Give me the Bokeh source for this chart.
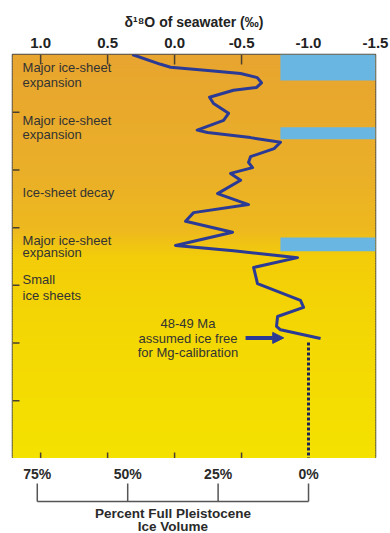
import numpy as np
from bokeh.plotting import figure
from bokeh.models import Range1d, LinearAxis, FixedTicker, Arrow, NormalHead, NumeralTickFormatter
from bokeh.layouts import column
from bokeh.embed import file_html
from bokeh.resources import INLINE
from bokeh.core.properties import value

# ---------------- data ----------------
# delta 18O of seawater curve (per mil) against age (Ma, increasing downward)
age_ma = [44.00, 44.17, 44.22, 44.28, 44.33, 44.40, 44.49, 44.57, 44.62, 44.74,
          44.85, 45.02, 45.14, 45.31, 45.35, 45.44, 45.52, 45.63, 45.77, 45.87,
          45.96, 46.06, 46.18, 46.41, 46.60, 46.74, 46.89, 47.08, 47.31, 47.40,
          47.52, 47.69, 47.97, 48.26, 48.38, 48.54, 48.71, 48.77, 48.92]
d18o = [0.316, 0.104, 0.030, -0.269, -0.493, -0.617, -0.649, -0.612, -0.440, -0.261,
        -0.291, -0.403, -0.366, -0.169, -0.246, -0.567, -0.791, -0.743, -0.567, -0.552,
        -0.582, -0.418, -0.493, -0.321, -0.552, -0.142, -0.082, -0.433, -0.007, -0.440,
        -0.918, -0.590, -0.619, -0.940, -0.963, -0.769, -0.761, -0.791, -1.090]

# ice-sheet expansion intervals (blue bars): age from / to, d18O threshold
ice_bar_top = [44.00, 45.26, 47.17]
ice_bar_bottom = [44.45, 45.47, 47.41]
ice_bar_d18o = [-0.79, -0.79, -0.79]

# phase labels on the left
phase_text = ["Major ice-sheet", " expansion", "Major ice-sheet", " expansion",
              "Ice-sheet decay", "Major ice-sheet", " expansion", "Small", "ice sheets"]
phase_age = [44.23, 44.49, 45.14, 45.39, 46.39, 47.22, 47.43, 47.90, 48.18]

# axis ticks
top_ticks = [1.0, 0.5, 0.0, -0.5, -1.0, -1.5]
marked_ticks = [1.0, 0.5, 0.0, -0.5]
age_ticks = [45, 46, 47, 48, 49, 50]

# ice-volume scale
ice_pct = [75, 50, 25, 0]
ice_pct_labels = ["75%", "50%", "25%", "0%"]
ice_free_d18o = -1.0
d18o_per_pct = 0.027

# calibration annotation
calib_lines = ["48-49 Ma", "assumed ice free", "for Mg-calibration"]
calib_age = [48.66, 48.92, 49.16]
calib_d18o = -0.10
calib_arrow = (-0.53, -0.815, 48.91)
calib_dash_top = 48.99

X0, X1 = 1.21, -1.5
Y0, Y1 = 51.0, 44.0
FW, FH = 363, 404

FONT = value("Liberation Sans")
NAVY = "#2b3a94"

p = figure(frame_width=FW, frame_height=FH, x_range=Range1d(X0, X1), y_range=Range1d(Y0, Y1),
           output_backend="svg", toolbar_location=None,
           x_axis_location=None, y_axis_location=None,
           min_border_left=12, min_border_right=15, min_border_top=54, min_border_bottom=0)
p.xgrid.visible = False
p.ygrid.visible = False
p.outline_line_color = "#4a4a4a"
p.outline_line_width = 1.5
p.background_fill_color = "#f0c020"

# gradient background
N = 160
edges = np.linspace(Y1, Y0, N + 1)
t = np.linspace(0, 1, N)
stops = np.array([[232, 165, 48], [235, 176, 40], [238, 186, 30], [243, 205, 10], [244, 216, 4], [244, 226, 0]])
pos = np.array([0.0, 0.30, 0.44, 0.50, 0.70, 1.0])
cols = []
for tt in t:
    r = np.interp(tt, pos, stops[:, 0]); g = np.interp(tt, pos, stops[:, 1]); b = np.interp(tt, pos, stops[:, 2])
    cols.append("#%02x%02x%02x" % (int(r), int(g), int(b)))
step = edges[1] - edges[0]
p.quad(left=X0, right=X1, top=edges[:-1], bottom=edges[1:] + step * 0.6,
       fill_color=cols, line_color=None)

# blue ice-sheet bars
p.quad(left=ice_bar_d18o, right=X1, top=ice_bar_top, bottom=ice_bar_bottom,
       fill_color="#6ab6e2", line_color=None)

# curve
p.line(d18o, age_ma, line_width=3, line_color=NAVY, line_join="round")

# dashed ice-free line
p.segment(x0=[ice_free_d18o], y0=[calib_dash_top], x1=[ice_free_d18o], y1=[Y0],
          line_width=3, line_color="#1e2658", line_dash="3 2")

# arrow
p.add_layout(Arrow(x_start=calib_arrow[0], y_start=calib_arrow[2], x_end=calib_arrow[1], y_end=calib_arrow[2],
                   line_width=4, line_color=NAVY,
                   end=NormalHead(size=11, fill_color=NAVY, line_color=NAVY, line_width=1)))

# texts
p.text(x=[1.135] * len(phase_text), y=phase_age, text=phase_text, text_font=FONT,
       text_font_size="13px", text_color="#333333", text_baseline="middle", text_align="left")
p.text(x=[calib_d18o] * 3, y=calib_age, text=calib_lines, text_font=FONT,
       text_font_size="13px", text_color="#333333", text_baseline="middle", text_align="center")

# tick marks (inward)
ux = (X0 - X1) / FW
uy = (Y0 - Y1) / FH
p.segment(x0=marked_ticks, y0=[Y1] * 4, x1=marked_ticks, y1=[Y1 + 10 * uy] * 4, line_color="#4a4030", line_width=1.5)
p.segment(x0=marked_ticks, y0=[Y0] * 4, x1=marked_ticks, y1=[Y0 - 6 * uy] * 4, line_color="#4a4030", line_width=1.5)
p.segment(x0=[X0] * len(age_ticks), y0=age_ticks, x1=[X0 - 7 * ux] * len(age_ticks), y1=age_ticks,
          line_color="#4a4030", line_width=1.5)

# top axis (labels only)
ax = LinearAxis(ticker=FixedTicker(ticks=top_ticks), formatter=NumeralTickFormatter(format="0.0"),
                axis_label="δ¹⁸O of seawater (‰)")
ax.major_tick_in = 0
ax.major_tick_out = 0
ax.minor_tick_in = 0
ax.minor_tick_out = 0
ax.axis_line_color = None
ax.major_label_text_font = "Liberation Sans"
ax.major_label_text_font_size = "15px"
ax.major_label_text_font_style = "bold"
ax.major_label_text_color = "#222222"
ax.major_label_standoff = 7
ax.axis_label_text_font = "Liberation Sans"
ax.axis_label_text_font_size = "14px"
ax.axis_label_text_font_style = "bold"
ax.axis_label_text_color = "#222222"
ax.axis_label_standoff = 5
p.add_layout(ax, "above")

# ---------------- bottom ice volume scale ----------------
BH = 75
q = figure(frame_width=FW, frame_height=BH, x_range=p.x_range, y_range=Range1d(BH, 0),
           output_backend="svg", toolbar_location=None,
           x_axis_location=None, y_axis_location=None,
           min_border_left=12, min_border_right=15, min_border_top=0, min_border_bottom=0)
q.xgrid.visible = False
q.ygrid.visible = False
q.outline_line_color = None

pct_x = [ice_free_d18o + v * d18o_per_pct for v in ice_pct]
q.text(x=pct_x, y=[15] * 4, text=ice_pct_labels, text_font=FONT, text_font_size="14px",
       text_font_style="bold", text_color="#2a2a2a", text_align="center", text_baseline="middle")
q.segment(x0=pct_x, y0=[25] * 4, x1=pct_x, y1=[43] * 4, line_color="#555555", line_width=1.5)
q.segment(x0=[min(pct_x)], y0=[43], x1=[max(pct_x)], y1=[43], line_color="#555555", line_width=1.5)
mid = (min(pct_x) + max(pct_x)) / 2
q.text(x=[mid, mid], y=[55, 68], text=["Percent Full Pleistocene", "Ice Volume"], text_font=FONT,
       text_font_size="13.5px", text_font_style="bold", text_color="#2a2a2a",
       text_align="center", text_baseline="middle")

layout = column(p, q, spacing=0)
open("out.html", "w").write(file_html(layout, INLINE))
